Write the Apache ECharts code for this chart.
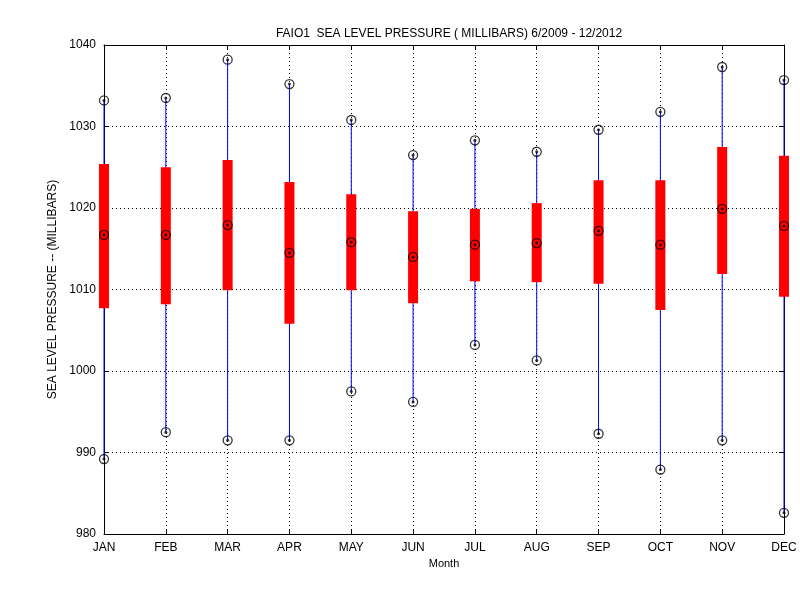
<!DOCTYPE html>
<html><head><meta charset="utf-8">
<script src="https://cdn.jsdelivr.net/npm/echarts@6/dist/echarts.min.js"></script>
<style>html,body{margin:0;background:#fff}#c{width:800px;height:600px}</style>
</head><body><div id="c"></div>
<script>
const months=['JAN','FEB','MAR','APR','MAY','JUN','JUL','AUG','SEP','OCT','NOV','DEC'];
const maxV=[1033.2,1033.5,1038.2,1035.2,1030.8,1026.5,1028.3,1026.9,1029.6,1031.8,1037.3,1035.7];
const q3V=[1025.4,1025.0,1025.9,1023.2,1021.7,1019.6,1019.9,1020.6,1023.4,1023.4,1027.5,1026.4];
const medV=[1016.7,1016.7,1017.9,1014.5,1015.8,1014.0,1015.5,1015.7,1017.2,1015.5,1019.9,1017.8];
const q1V=[1007.7,1008.2,1009.9,1005.8,1009.9,1008.3,1011.0,1010.9,1010.7,1007.5,1011.9,1009.1];
const minV=[989.2,992.5,991.5,991.5,997.5,996.2,1003.2,1001.3,992.3,987.9,991.5,982.6];
const yTicks=[980,990,1000,1010,1020,1030,1040];

const boxData=months.map((m,i)=>[i+1,minV[i],q1V[i],q3V[i],maxV[i]]);
const pts=[];
months.forEach((m,i)=>{pts.push([i+1,maxV[i]],[i+1,medV[i]],[i+1,minV[i]]);});
const font='Liberation Sans';
const chart=echarts.init(document.getElementById('c'));
const axisCommon={axisLine:{show:true,lineStyle:{color:'#000'}},axisTick:{inside:true,lineStyle:{color:'#000'}},
 splitLine:{show:false}};
chart.setOption({
 animation:false,
 title:{text:'FAIO1  SEA LEVEL PRESSURE ( MILLIBARS) 6/2009 - 12/2012',left:444,top:23,textAlign:'center',
  textStyle:{fontFamily:font,fontSize:12,fontWeight:'normal',color:'#000'}},
 grid:{left:104,right:16,top:45,bottom:66},
 xAxis:[{type:'value',min:1,max:12,interval:1,...axisCommon,
   splitLine:{show:true,lineStyle:{color:'#000',type:[1,3],width:1}},
   axisLabel:{color:'#000',fontFamily:font,fontSize:12,formatter:v=>months[v-1]||''},
   name:'Month',nameLocation:'middle',nameGap:24,nameTextStyle:{fontFamily:font,fontSize:11,color:'#000'}},
  {type:'value',min:1,max:12,interval:1,position:'top',...axisCommon,axisLabel:{show:false}}],
 yAxis:[{type:'value',min:980,max:1040,interval:10,...axisCommon,
   splitLine:{show:true,lineStyle:{color:'#000',type:[1,3],width:1}},
   axisLabel:{color:'#000',fontFamily:font,fontSize:12,formatter:v=>yTicks.includes(v)?String(v):''},
   name:'SEA LEVEL PRESSURE -- (MILLIBARS)',nameLocation:'middle',nameGap:40,
   nameTextStyle:{fontFamily:font,fontSize:12,color:'#000'}},
  {type:'value',min:980,max:1040,interval:10,position:'right',...axisCommon,axisLabel:{show:false}}],
 series:[
  {type:'custom',data:boxData,encode:{x:0,y:[1,2,3,4]},renderItem:(params,api)=>{
    const x=api.value(0);
    const pMin=api.coord([x,api.value(1)]),pQ1=api.coord([x,api.value(2)]),
      pQ3=api.coord([x,api.value(3)]),pMax=api.coord([x,api.value(4)]);
    return {type:'group',children:[
     {type:'line',shape:{x1:pMin[0],y1:pMin[1],x2:pMax[0],y2:pMax[1]},style:{stroke:'#0000ff',lineWidth:1}},
     {type:'rect',shape:{x:pQ3[0]-5,y:pQ3[1],width:10,height:pQ1[1]-pQ3[1]},style:{fill:'#ff0000'}}
    ]};
  },z:2},
  {type:'scatter',data:pts,symbol:'circle',symbolSize:9,itemStyle:{color:'rgba(0,0,0,0)',borderColor:'#000',borderWidth:1.3},z:3},
  {type:'scatter',data:pts,symbol:'circle',symbolSize:3,itemStyle:{color:'#000'},z:4}
 ]
});
</script></body></html>
